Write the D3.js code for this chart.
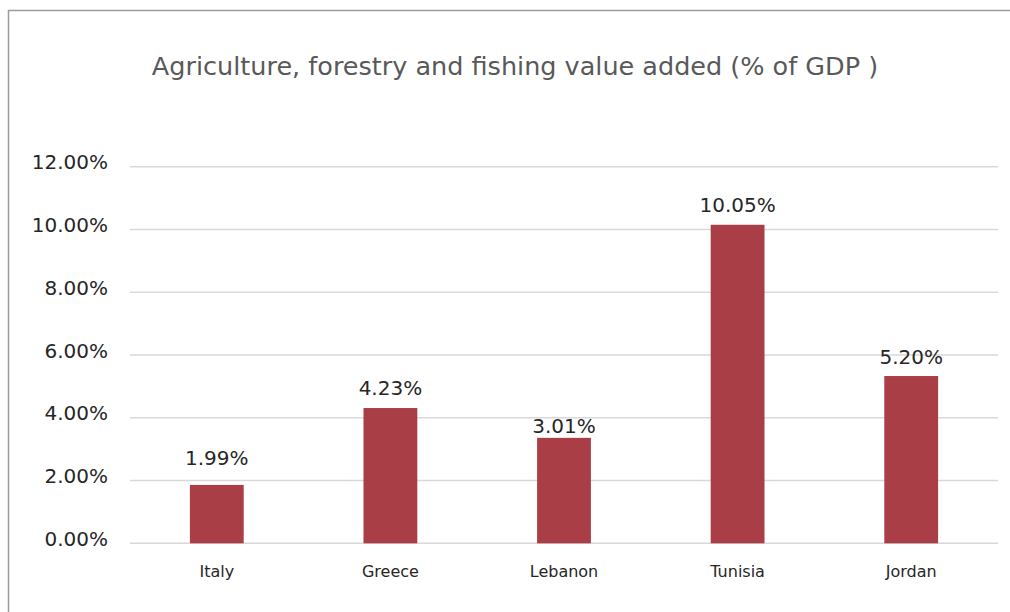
<!DOCTYPE html>
<html>
<head>
<meta charset="utf-8">
<script src="https://cdn.jsdelivr.net/npm/d3@7"></script>
<style>
  body { margin: 0; background: #fff; }
  text { font-family: "DejaVu Sans", sans-serif; }
</style>
</head>
<body>
<script>
const width = 1010;
const height = 612;

const countries = ["Italy", "Greece", "Lebanon", "Tunisia", "Jordan"];
// bar heights as drawn in the picture (%)
const barValues = [1.86, 4.31, 3.36, 10.15, 5.33];
// data labels printed above the bars (%)
const labelValues = [1.99, 4.23, 3.01, 10.05, 5.2];
const yTicks = [0, 2, 4, 6, 8, 10, 12];

const margin = { top: 166.7, right: 12, bottom: 68.7, left: 130 };

const svg = d3.select("body").append("svg")
  .attr("width", width)
  .attr("height", height);

// chart frame
svg.append("rect")
  .attr("x", 8.5).attr("y", 10.5)
  .attr("width", 1010).attr("height", 610)
  .attr("fill", "none")
  .attr("stroke", "#9a9a9a")
  .attr("stroke-width", 1.5);

svg.append("text")
  .attr("x", 515)
  .attr("y", 75)
  .attr("text-anchor", "middle")
  .attr("font-size", 25.5)
  .attr("fill", "#595959")
  .text("Agriculture, forestry and fishing value added (% of GDP )");

const x = d3.scaleBand()
  .domain(countries)
  .range([margin.left, width - margin.right])
  .paddingInner(0.69)
  .paddingOuter(0.345);

const y = d3.scaleLinear()
  .domain([0, 12])
  .range([height - margin.bottom, margin.top]);

// gridlines
svg.append("g")
  .selectAll("line")
  .data(yTicks)
  .enter()
  .append("line")
  .attr("x1", margin.left)
  .attr("x2", width - margin.right)
  .attr("y1", (d) => y(d))
  .attr("y2", (d) => y(d))
  .attr("stroke", "#d9d9d9")
  .attr("stroke-width", 1.5);

// y axis labels
const yAxis = svg.append("g")
  .attr("transform", `translate(${margin.left},0)`)
  .call(d3.axisLeft(y).tickValues(yTicks).tickFormat((d) => d.toFixed(2) + "%").tickSize(0).tickPadding(22));
yAxis.select(".domain").remove();
yAxis.selectAll("text")
  .attr("dy", "0.1em")
  .attr("font-family", "DejaVu Sans, sans-serif")
  .attr("font-size", 20)
  .attr("fill", "#262626");

// x axis labels
const xAxis = svg.append("g")
  .attr("transform", `translate(0,${y(0)})`)
  .call(d3.axisBottom(x).tickSize(0).tickPadding(22));
xAxis.select(".domain").remove();
xAxis.selectAll("text")
  .attr("font-family", "DejaVu Sans, sans-serif")
  .attr("font-size", 16)
  .attr("fill", "#262626");

const rows = countries.map((c, i) => ({ c, v: barValues[i], l: labelValues[i] }));

svg.append("g")
  .selectAll("rect")
  .data(rows)
  .enter()
  .append("rect")
  .attr("x", (d) => x(d.c))
  .attr("y", (d) => y(d.v))
  .attr("width", x.bandwidth())
  .attr("height", (d) => y(0) - y(d.v))
  .attr("fill", "#a93e46");

svg.append("g")
  .selectAll("text")
  .data(rows)
  .enter()
  .append("text")
  .attr("x", (d) => x(d.c) + x.bandwidth() / 2)
  .attr("y", (d) => y(d.l) - 16)
  .attr("text-anchor", "middle")
  .attr("font-size", 20)
  .attr("fill", "#262626")
  .text((d) => d.l.toFixed(2) + "%");
</script>
</body>
</html>
